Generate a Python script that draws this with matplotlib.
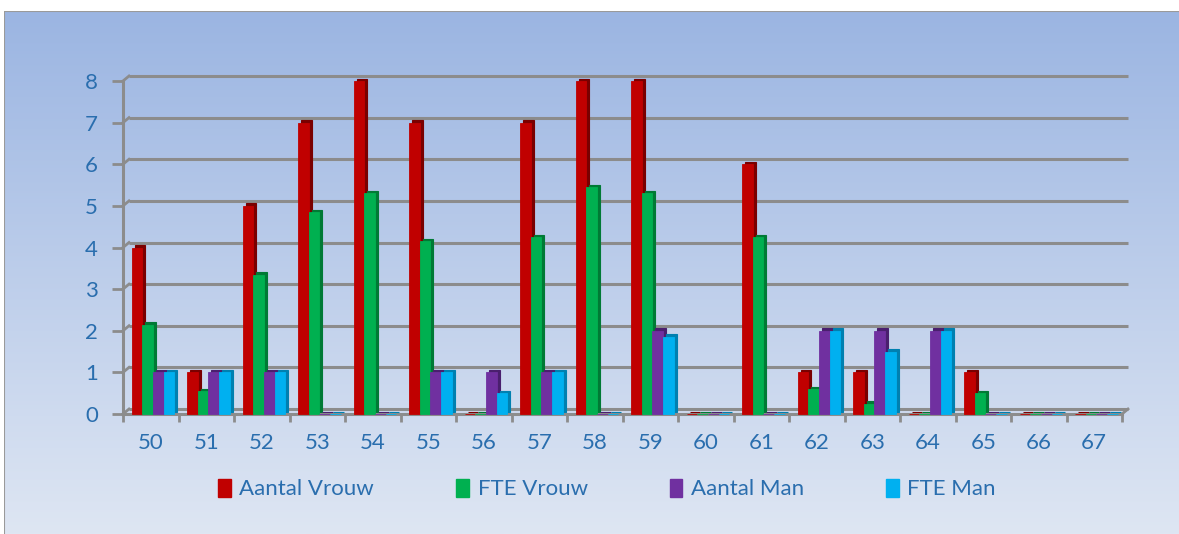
import numpy as np
import matplotlib
matplotlib.use("Agg")
import matplotlib.pyplot as plt
import matplotlib.transforms as mtransforms
from matplotlib.patches import Rectangle
from matplotlib.lines import Line2D

categories = ["50", "51", "52", "53", "54", "55", "56", "57", "58", "59",
              "60", "61", "62", "63", "64", "65", "66", "67"]
aantal_vrouw = [4, 1, 5, 7, 8, 7, 0, 7, 8, 8, 0, 6, 1, 1, 0, 1, 0, 0]
fte_vrouw = [2.15, 0.55, 3.35, 4.85, 5.3, 4.15, 0, 4.25, 5.45, 5.3, 0, 4.25, 0.6, 0.25, 0, 0.5, 0, 0]
aantal_man = [1, 1, 1, 0, 0, 1, 1, 1, 0, 2, 0, 0, 2, 2, 2, 0, 0, 0]
fte_man = [1, 1, 1, 0, 0, 1, 0.5, 1, 0, 1.85, 0, 0, 2, 1.5, 2, 0, 0, 0]
series_names = ["Aantal Vrouw", "FTE Vrouw", "Aantal Man", "FTE Man"]
yticks = [0, 1, 2, 3, 4, 5, 6, 7, 8]

series = [aantal_vrouw, fte_vrouw, aantal_man, fte_man]
colors = ["#c00000", "#00b050", "#7030a0", "#00b0f0"]
darks = ["#7a0000", "#007a35", "#4a1f6e", "#0080b0"]

W, H = 1179, 534
fig = plt.figure(figsize=(W / 100, H / 100), dpi=100)
fig.patch.set_facecolor("white")

# gradient background panel
bg = fig.add_axes([4 / W, 0, 1 - 4 / W, (H - 11) / H])
top = np.array([0x9b, 0xb5, 0xe2]) / 255
bot = np.array([0xde, 0xe6, 0xf3]) / 255
t = np.linspace(0, 1, 256)[:, None]
grad = top[None, :] * (1 - t) + bot[None, :] * t
bg.imshow(grad[:, None, :], aspect="auto", extent=[0, 1, 0, 1])
bg.set_xlim(0, 1); bg.set_ylim(0, 1)
bg.axis("off")
bg.add_line(Line2D([0, 1], [1, 1], color="#9a9a9a", lw=1.5, transform=bg.transAxes))
bg.add_line(Line2D([0, 0], [0, 1], color="#9a9a9a", lw=1.5, transform=bg.transAxes))

tick_color = "#2a6eae"
fnt = "Lato"

ax = fig.add_axes([123 / W, (H - 414) / H, (1122 - 123) / W, (414 - 81) / H])
ax.set_facecolor("none")
n = len(categories)
x = np.arange(n)
ax.set_xlim(-0.5, n - 0.5)
ax.set_ylim(0, 8)

back = mtransforms.offset_copy(ax.transData, fig=fig, x=6, y=5, units="dots")
side = mtransforms.offset_copy(ax.transData, fig=fig, x=3, y=2.5, units="dots")

# back wall gridlines
for v in yticks:
    ax.plot([-0.5, n - 0.5], [v, v], color="#8c8c8c", lw=2.2, transform=back,
            solid_capstyle="butt", zorder=1, clip_on=False)
# slanted connectors from front axis to back wall
for v in yticks:
    p0 = ax.transData.transform((-0.5, v))
    p1 = back.transform((-0.5, v))
    fig.add_artist(Line2D([p0[0] / W, p1[0] / W], [p0[1] / H, p1[1] / H],
                          color="#8c8c8c", lw=2.0))
p0 = ax.transData.transform((n - 0.5, 0))
p1 = back.transform((n - 0.5, 0))
fig.add_artist(Line2D([p0[0] / W, p1[0] / W], [p0[1] / H, p1[1] / H], color="#8c8c8c", lw=2.0))

bw = 0.19
offs = (np.arange(4) - 1.5) * bw + 0.04
for i, (vals, c, d) in enumerate(zip(series, colors, darks)):
    xs = x + offs[i]
    ax.bar(xs, vals, width=bw, color=d, edgecolor=d, lw=0.8, transform=side,
           align="center", zorder=3 + i * 2, clip_on=False)
    ax.bar(xs, vals, width=bw, color=c, edgecolor=c, lw=0.6,
           align="center", zorder=4 + i * 2, clip_on=False)

for s in ["top", "right"]:
    ax.spines[s].set_visible(False)
for s in ["left", "bottom"]:
    ax.spines[s].set_color("#8c8c8c")
    ax.spines[s].set_linewidth(2.2)

ax.set_yticks(yticks)
ax.set_yticklabels([str(v) for v in yticks])
ax.tick_params(axis="y", length=8, width=2, color="#8c8c8c", pad=10,
               labelsize=16, labelcolor=tick_color)
ax.set_xticks(x)
ax.set_xticklabels(categories)
ax.set_xticks(np.arange(n + 1) - 0.5, minor=True)
ax.tick_params(axis="x", which="major", length=0, pad=14, labelsize=16, labelcolor=tick_color)
ax.tick_params(axis="x", which="minor", length=6, width=2, color="#8c8c8c")
for lab in ax.get_xticklabels() + ax.get_yticklabels():
    lab.set_fontfamily(fnt)

handles = [Rectangle((0, 0), 1, 1, facecolor=c, edgecolor=c) for c in colors]
leg = fig.legend(handles, series_names, loc="center", bbox_to_anchor=(0.515, (H - 489) / H),
                 ncol=4, frameon=False, handlelength=0.55, handleheight=0.9,
                 handletextpad=0.4, columnspacing=3.7,
                 prop={"family": fnt, "size": 16})
for txt in leg.get_texts():
    txt.set_color(tick_color)

fig.savefig("out.png", dpi=100, facecolor=fig.get_facecolor())
